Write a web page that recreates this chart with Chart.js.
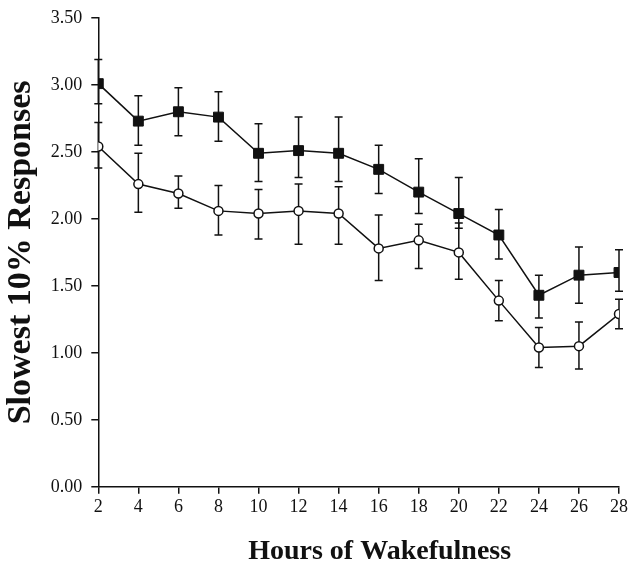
<!DOCTYPE html>
<html>
<head>
<meta charset="utf-8">
<script src="https://cdn.jsdelivr.net/npm/chart.js@4/dist/chart.umd.min.js"></script>
<style>
  html, body { margin: 0; padding: 0; background: #fff; }
  #wrap { width: 638px; height: 572px; }
</style>
</head>
<body>
<div id="wrap"><canvas id="wakeChart" width="638" height="572"></canvas></div>
<script>
// hours awake
const hours = [2, 4, 6, 8, 10, 12, 14, 16, 18, 20, 22, 24, 26, 28];

// filled squares
const squareMean = [3.01, 2.73, 2.80, 2.76, 2.49, 2.51, 2.49, 2.37, 2.20, 2.04, 1.88, 1.43, 1.58, 1.60];
const squareHigh = [3.19, 2.92, 2.98, 2.95, 2.71, 2.76, 2.76, 2.55, 2.45, 2.31, 2.07, 1.58, 1.79, 1.77];
const squareLow  = [2.86, 2.55, 2.62, 2.58, 2.28, 2.31, 2.28, 2.19, 2.04, 1.93, 1.70, 1.26, 1.37, 1.46];

// open circles
const circleMean = [2.54, 2.26, 2.19, 2.06, 2.04, 2.06, 2.04, 1.78, 1.84, 1.75, 1.39, 1.04, 1.05, 1.29];
const circleHigh = [2.72, 2.49, 2.32, 2.25, 2.22, 2.26, 2.24, 2.03, 1.96, 1.97, 1.54, 1.19, 1.23, 1.40];
const circleLow  = [2.38, 2.05, 2.08, 1.88, 1.85, 1.81, 1.81, 1.54, 1.63, 1.55, 1.24, 0.89, 0.88, 1.18];

const yTicks = [0, 0.5, 1, 1.5, 2, 2.5, 3, 3.5];

const serif = '"Liberation Serif", "Times New Roman", serif';

function toPoints(ys) {
    return hours.map((h, i) => ({ x: h, y: ys[i] }));
}

// draws the whiskers under the markers
const errorBars = {
    id: 'errorBars',
    beforeDatasetsDraw(chart) {
        const ctx = chart.ctx;
        const xs = chart.scales.x, ys = chart.scales.y;
        const sets = [[squareHigh, squareLow], [circleHigh, circleLow]];
        ctx.save();
        ctx.strokeStyle = '#111';
        ctx.lineWidth = 1.5;
        sets.forEach(([hi, lo]) => {
            hours.forEach((h, i) => {
                const px = xs.getPixelForValue(h);
                const top = ys.getPixelForValue(hi[i]);
                const bot = ys.getPixelForValue(lo[i]);
                ctx.beginPath();
                ctx.moveTo(px, top); ctx.lineTo(px, bot);
                ctx.moveTo(px - 4, top); ctx.lineTo(px + 4, top);
                ctx.moveTo(px - 4, bot); ctx.lineTo(px + 4, bot);
                ctx.stroke();
            });
        });
        ctx.restore();
    }
};

const ctx = document.getElementById('wakeChart').getContext('2d');
new Chart(ctx, {
    type: 'line',
    data: {
        datasets: [{
            data: toPoints(squareMean),
            borderColor: '#111',
            borderWidth: 1.5,
            pointStyle: 'rect',
            pointRadius: 7,
            pointBackgroundColor: '#111',
            pointBorderColor: '#111',
            pointBorderWidth: 1
        }, {
            data: toPoints(circleMean),
            borderColor: '#111',
            borderWidth: 1.5,
            pointStyle: 'circle',
            pointRadius: 4.5,
            pointBackgroundColor: '#fff',
            pointBorderColor: '#111',
            pointBorderWidth: 1.5
        }]
    },
    options: {
        responsive: false,
        animation: false,
        layout: { padding: { left: 1, right: 19, top: 7, bottom: 0 } },
        plugins: { legend: { display: false }, tooltip: { enabled: false } },
        scales: {
            x: {
                type: 'linear',
                min: 2,
                max: 28,
                ticks: {
                    stepSize: 2,
                    color: '#111',
                    font: { family: serif, size: 18 },
                    padding: 3,
                    maxRotation: 0
                },
                grid: { drawOnChartArea: false, drawTicks: true, tickLength: 7, color: '#111', lineWidth: 1.5 },
                border: { display: true, color: '#111', width: 1.5 },
                title: {
                    display: true,
                    // leading spaces nudge the title right, as in the original
                    text: '      Hours of Wakefulness',
                    color: '#111',
                    font: { family: serif, size: 28, weight: 'bold' },
                    padding: { top: 14, bottom: 3 }
                }
            },
            y: {
                min: 0,
                max: 3.5,
                afterBuildTicks(axis) { axis.ticks = yTicks.map(v => ({ value: v })); },
                ticks: {
                    color: '#111',
                    font: { family: serif, size: 18, lineHeight: 1 },
                    padding: 9,
                    callback: v => Number(v).toFixed(2)
                },
                grid: { drawOnChartArea: false, drawTicks: true, tickLength: 7, color: '#111', lineWidth: 1.5 },
                border: { display: true, color: '#111', width: 1.5 },
                title: {
                    display: true,
                    text: 'Slowest 10% Responses',
                    color: '#111',
                    font: { family: serif, size: 34, weight: 'bold' },
                    padding: { top: 0, bottom: 0 }
                }
            }
        }
    },
    plugins: [errorBars]
});
</script>
</body>
</html>
